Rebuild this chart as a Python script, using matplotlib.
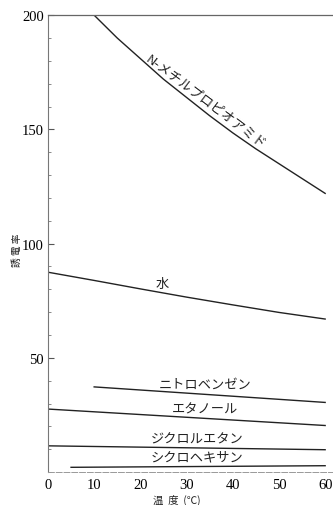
import matplotlib
matplotlib.use("Agg")
import matplotlib.pyplot as plt

# dielectric constant vs temperature
temp = [0, 10, 20, 30, 40, 50, 60]
nmp_t = [10, 15, 20, 25, 30, 35, 40, 45, 50, 55, 60]
nmp = [200, 190, 181, 172, 164, 156, 148.5, 141.5, 135, 128.5, 122]
water = [87.5, 83.9, 80.2, 76.6, 73.2, 69.9, 67.0]
nitro_t = [10, 60]
nitro = [37.3, 30.5]
ethanol_t = [0, 60]
ethanol = [27.6, 20.4]
dce_t = [0, 60]
dce = [11.5, 9.8]
chex_t = [5, 60]
chex = [2.1, 2.8]

xticks = [0, 10, 20, 30, 40, 50, 60]
yticks = [50, 100, 150, 200]

jp = ['Noto Sans CJK JP', 'DejaVu Sans']
num = 'Liberation Serif'
ink = '#222222'

fig = plt.figure(figsize=(3.33, 5.06), dpi=100)
ax = fig.add_axes([0.144, 0.065, 0.856, 0.903])

lw = 1.0
ax.plot(nmp_t, nmp, color=ink, lw=lw)
ax.plot(temp, water, color=ink, lw=lw)
ax.plot(nitro_t, nitro, color=ink, lw=lw)
ax.plot(ethanol_t, ethanol, color=ink, lw=lw)
ax.plot(dce_t, dce, color=ink, lw=lw)
ax.plot(chex_t, chex, color=ink, lw=lw)

ax.set_xlim(0, 61.7)
ax.set_ylim(0, 200)

ax.set_xticks(xticks)
ax.set_xticklabels([str(v) for v in xticks], fontfamily=num, fontsize=10.5)
ax.set_yticks(yticks)
ax.set_yticklabels([str(v) for v in yticks], fontfamily=num, fontsize=10.5)
ax.set_yticks(range(0, 201, 10), minor=True)
ax.tick_params(axis='x', length=0, pad=4)
ax.tick_params(axis='y', which='major', direction='in', length=4, width=0.8, color='#555555', pad=3)
ax.tick_params(axis='y', which='minor', direction='in', length=2, width=0.6, color='#777777')

ax.spines['left'].set_color('#777777')
ax.spines['left'].set_linewidth(0.8)
ax.spines['top'].set_color('#666666')
ax.spines['top'].set_linewidth(0.9)
ax.spines['bottom'].set_color('#999999')
ax.spines['bottom'].set_linewidth(0.7)
ax.spines['bottom'].set_linestyle((0, (6, 2)))
ax.spines['right'].set_color('#dddddd')
ax.spines['right'].set_linewidth(0.6)

fs = 9.5
ax.text(34.2, 162.4, 'N-メチルプロピオアミド', family=jp, fontsize=fs, color=ink,
        rotation=-37, rotation_mode='anchor', ha='center', va='center')
ax.text(24.7, 82.5, '水', family=jp, fontsize=9.5, color=ink, ha='center', va='center')
ax.text(34.0, 38.6, 'ニトロベンゼン', family=jp, fontsize=fs, color=ink, ha='center', va='center')
ax.text(34.0, 27.6, 'エタノール', family=jp, fontsize=fs, color=ink, ha='center', va='center')
ax.text(32.3, 14.5, 'ジクロルエタン', family=jp, fontsize=fs, color=ink, ha='center', va='center')
ax.text(32.3, 6.6, 'シクロヘキサン', family=jp, fontsize=fs, color=ink, ha='center', va='center')

fig.text(0.53, 0.011, '温  度  (℃)', family=jp, fontsize=7.5, color=ink, ha='center', va='center')
fig.text(0.05, 0.506, '誘 電 率', family=jp, fontsize=7, color=ink, rotation=90,
         ha='center', va='center')

fig.savefig('out.png', dpi=100)
